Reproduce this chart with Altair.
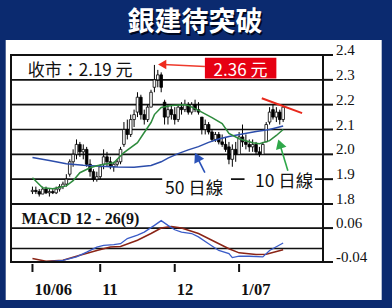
import altair as alt
import pandas as pd

NAVY = "#0b2a6f"
SERIF = "Liberation Serif"
CJK = "Noto Sans CJK TC"

# ---- daily candles: trading-day index (0 = 3 Oct 2006) ----
day = list(range(75))
open_ = [1.85, 1.855, 1.85, 1.84, 1.86, 1.845, 1.85, 1.845, 1.86, 1.87,
         1.88, 1.92, 1.97, 2.00, 2.04, 2.01, 2.02, 1.96, 1.93, 1.90,
         1.91, 1.96, 1.99, 1.97, 1.95, 1.96, 1.97, 2.04, 2.10, 2.08,
         2.14, 2.17, 2.23, 2.16, 2.14, 2.19, 2.27, 2.30, 2.32, 2.21,
         2.15, 2.18, 2.16, 2.14, 2.19, 2.18, 2.20, 2.17, 2.20, 2.18,
         2.15, 2.10, 2.12, 2.09, 2.06, 2.08, 2.05, 2.04, 2.03, 1.98,
         2.02, 2.00, 2.07, 2.05, 2.04, 2.03, 2.04, 2.01, 2.00, 2.05,
         2.13, 2.18, 2.15, 2.17, 2.14]
high = [1.87, 1.87, 1.86, 1.87, 1.87, 1.86, 1.86, 1.87, 1.88, 1.89,
        1.92, 1.98, 2.02, 2.06, 2.05, 2.04, 2.03, 1.98, 1.94, 1.93,
        1.96, 2.02, 2.01, 1.99, 1.97, 1.98, 2.03, 2.13, 2.14, 2.16,
        2.18, 2.25, 2.24, 2.18, 2.20, 2.26, 2.36, 2.34, 2.33, 2.22,
        2.20, 2.20, 2.19, 2.20, 2.21, 2.22, 2.21, 2.21, 2.22, 2.21,
        2.15, 2.14, 2.13, 2.10, 2.09, 2.09, 2.08, 2.07, 2.05, 2.04,
        2.05, 2.09, 2.12, 2.08, 2.06, 2.06, 2.05, 2.03, 2.05, 2.13,
        2.19, 2.20, 2.19, 2.18, 2.20]
low = [1.84, 1.84, 1.83, 1.84, 1.84, 1.83, 1.84, 1.84, 1.85, 1.86,
       1.87, 1.91, 1.95, 1.98, 1.99, 1.98, 1.95, 1.91, 1.89, 1.89,
       1.90, 1.94, 1.95, 1.94, 1.93, 1.95, 1.96, 2.03, 2.06, 2.07,
       2.11, 2.15, 2.14, 2.12, 2.13, 2.19, 2.25, 2.27, 2.25, 2.12,
       2.12, 2.14, 2.12, 2.13, 2.16, 2.17, 2.16, 2.16, 2.17, 2.16,
       2.08, 2.08, 2.08, 2.05, 2.05, 2.04, 2.03, 2.01, 1.96, 1.95,
       1.97, 2.00, 2.03, 2.02, 2.01, 2.01, 2.00, 1.99, 2.00, 2.05,
       2.12, 2.14, 2.13, 2.12, 2.13]
close = [1.855, 1.85, 1.84, 1.86, 1.845, 1.85, 1.845, 1.86, 1.87, 1.88,
         1.90, 1.97, 2.00, 2.04, 2.01, 2.02, 1.96, 1.93, 1.90, 1.91,
         1.95, 1.99, 1.97, 1.95, 1.96, 1.97, 2.02, 2.10, 2.08, 2.14,
         2.16, 2.23, 2.16, 2.14, 2.19, 2.25, 2.30, 2.32, 2.27, 2.15,
         2.18, 2.16, 2.14, 2.19, 2.18, 2.20, 2.17, 2.20, 2.18, 2.17,
         2.10, 2.12, 2.09, 2.06, 2.08, 2.05, 2.04, 2.02, 1.98, 2.02,
         2.00, 2.07, 2.05, 2.04, 2.03, 2.04, 2.01, 2.00, 2.04, 2.12,
         2.17, 2.15, 2.17, 2.14, 2.19]

# ---- moving averages ----
ma50_day = [0, 5, 10, 15, 20, 25, 30, 35, 38, 40, 43, 46, 49, 52, 55, 58, 62, 66, 70, 74]
ma50 = [1.987, 1.975, 1.962, 1.956, 1.952, 1.949, 1.948, 1.955, 1.970, 1.985,
        2.003, 2.018, 2.031, 2.048, 2.062, 2.072, 2.082, 2.092, 2.100, 2.114]
ma10_day = [0, 3, 6, 10, 12, 14, 17, 19, 22, 24, 27, 31, 33, 35, 36, 38, 41, 45, 46, 49,
            53, 56, 58, 61, 65, 67, 70, 72, 74]
ma10 = [1.906, 1.865, 1.861, 1.873, 1.894, 1.926, 1.946, 1.954, 1.962, 1.966,
        2.007, 2.047, 2.088, 2.128, 2.160, 2.189, 2.197, 2.200, 2.197, 2.177,
        2.148, 2.124, 2.084, 2.063, 2.047, 2.043, 2.055, 2.076, 2.100]

# ---- MACD 12-26(9) ----
macd_day = [0, 4, 9, 13, 16, 19, 21, 24, 26, 28, 31, 33, 36, 38, 40, 42, 44, 47, 49, 52,
            55, 58, 59, 61, 64, 68, 70, 74]
macd = [-0.040, -0.040, -0.035, -0.025, -0.011, 0.004, 0.009, 0.011, 0.014, 0.029,
        0.039, 0.048, 0.068, 0.082, 0.068, 0.055, 0.048, 0.044, 0.034, 0.014,
        -0.006, -0.015, -0.027, -0.023, -0.023, -0.025, -0.006, 0.016]
signal_day = [0, 4, 9, 14, 19, 23, 26, 31, 35, 38, 41, 44, 49, 54, 58, 61, 66, 69, 74]
signal = [-0.030, -0.038, -0.035, -0.020, -0.006, 0.004, 0.006, 0.024, 0.044, 0.060,
          0.065, 0.060, 0.044, 0.019, -0.001, -0.013, -0.018, -0.017, -0.004]

# ---- axes ----
price_ticks = [1.8, 1.9, 2.0, 2.1, 2.2, 2.3, 2.4]
price_labels = ["1.8", "1.9", "2.0", "2.1", "2.2", "2.3", "2.4"]
price_grid = [1.9, 2.0, 2.1, 2.2, 2.3]
macd_ticks = [0.06, -0.04]
macd_labels = ["0.06", "-0.04"]
macd_grid = [0.0, 0.06]
month_ticks = [0, 20, 42, 61]
month_labels = ["10/06", "11", "12", "1/07"]

# The drawing area covers the whole card; the panels use part of it:
# price panel 0..149 px, MACD panel 149..207 px, both 312 px wide.
W_ALL, H_ALL = 381, 253
W, H_PRICE, H = 312, 149, 207
x_scale = alt.Scale(domain=[-4.86, 84.29], range=[0, W], nice=False, zero=False)
p_scale = alt.Scale(domain=[1.8, 2.4], range=[H_PRICE, 0], nice=False, zero=False)
m_scale = alt.Scale(domain=[-0.04, 0.131], range=[H, H_PRICE], nice=False, zero=False)

prices = pd.DataFrame({"day": day, "open": open_, "high": high, "low": low, "close": close})
prices["dir"] = ["up" if c >= o else "down" for o, c in zip(open_, close)]

one = pd.DataFrame({"k": [0]})


def X(field="day"):
    return alt.X(f"{field}:Q", scale=x_scale, axis=None)


def PY(field):
    return alt.Y(f"{field}:Q", scale=p_scale, axis=None)


def MY(field):
    return alt.Y(f"{field}:Q", scale=m_scale, axis=None)


# white card behind the chart
white_card = alt.Chart(one).mark_rect(color="white").encode(
    x=alt.value(-5.3), x2=alt.value(370.7), y=alt.value(-15), y2=alt.value(245))

# ================= price panel =================
p_grid = alt.Chart(pd.DataFrame({"v": price_grid})).mark_rule(
    color="#111", strokeWidth=1.6).encode(y=PY("v"), x=alt.value(0), x2=alt.value(W))
p_ticks = alt.Chart(pd.DataFrame({"v": price_ticks})).mark_rule(
    color="#111", strokeWidth=2).encode(y=PY("v"), x=alt.value(W), x2=alt.value(W + 10))
p_tick_labels = alt.Chart(pd.DataFrame({"v": price_ticks, "t": price_labels})).mark_text(
    font=SERIF, fontSize=15, color="#111", align="left", baseline="alphabetic").encode(
    y=PY("v"), x=alt.value(W + 13), text="t:N")

masks = alt.Chart(pd.DataFrame({"x0": [38.3, 62.6], "x1": [58.6, 83.4],
                                "y0": [1.888, 1.888], "y1": [1.912, 1.912]})).mark_rect(
    color="white").encode(x=X("x0"), x2="x1:Q", y=PY("y0"), y2="y1:Q")

wicks = alt.Chart(prices).mark_rule(color="black", strokeWidth=1).encode(
    x=X(), y=PY("low"), y2="high:Q")
bodies = alt.Chart(prices).mark_bar(size=2.6, stroke="black", strokeWidth=0.8).encode(
    x=X(), y=PY("open"), y2="close:Q",
    fill=alt.Fill("dir:N", scale=alt.Scale(domain=["up", "down"], range=["white", "black"]),
                  legend=None))

ma50_line = alt.Chart(pd.DataFrame({"day": ma50_day, "v": ma50})).mark_line(
    color="#2c4dab", strokeWidth=1.5).encode(x=X(), y=PY("v"))
ma10_line = alt.Chart(pd.DataFrame({"day": ma10_day, "v": ma10})).mark_line(
    color="#2e8b3d", strokeWidth=1.5).encode(x=X(), y=PY("v"))

# resistance line over the recent highs
resist = alt.Chart(pd.DataFrame({"day": [67.7, 79.6], "v": [2.226, 2.166]})).mark_line(
    color="#e8291c", strokeWidth=2).encode(x=X(), y=PY("v"))

# 2.36 high call-out
red_arrow = alt.Chart(pd.DataFrame({"day": [50.9, 38.6], "v": [2.354, 2.362]})).mark_line(
    color="#ee3a2c", strokeWidth=1.5).encode(x=X(), y=PY("v"))
red_head = alt.Chart(pd.DataFrame({"day": [38.3], "v": [2.362]})).mark_point(
    shape="triangle-left", filled=True, size=90, color="#ee2a1c", opacity=1).encode(
    x=X(), y=PY("v"))
red_box = alt.Chart(pd.DataFrame({"x0": [50.9], "x1": [72.0], "y0": [2.305], "y1": [2.389]})
                    ).mark_rect(color="#e60012").encode(x=X("x0"), x2="x1:Q", y=PY("y0"), y2="y1:Q")
red_text = alt.Chart(pd.DataFrame({"day": [61.4], "v": [2.316], "t": ["2.36 元"]})).mark_text(
    font=CJK, fontSize=17, color="white", align="center", baseline="alphabetic").encode(
    x=X(), y=PY("v"), text="t:N")

# arrows pointing at the moving averages
blue_arrow = alt.Chart(pd.DataFrame({"day": [50.9, 48.6], "v": [1.926, 1.989]})).mark_line(
    color="#2a52b8", strokeWidth=1.6).encode(x=X(), y=PY("v"))
blue_head = alt.Chart(pd.DataFrame({"day": [48.6], "v": [1.989]})).mark_point(
    shape="triangle-up", angle=333, filled=True, size=120, color="#2a52b8", opacity=1).encode(
    x=X(), y=PY("v"))
green_arrow = alt.Chart(pd.DataFrame({"day": [75.4, 73.0], "v": [1.934, 2.042]})).mark_line(
    color="#2fa84a", strokeWidth=1.6).encode(x=X(), y=PY("v"))
green_head = alt.Chart(pd.DataFrame({"day": [73.0], "v": [2.042]})).mark_point(
    shape="triangle-up", angle=342, filled=True, size=120, color="#2fa84a", opacity=1).encode(
    x=X(), y=PY("v"))

close_note = alt.Chart(pd.DataFrame({"day": [-1.4], "v": [2.314], "t": ["收市：2.19 元"]})
                       ).mark_text(font=CJK, fontSize=17, color="#111", align="left",
                                   baseline="alphabetic").encode(x=X(), y=PY("v"), text="t:N")
ma_notes = alt.Chart(pd.DataFrame({
    "day": [39.1, 65.7],
    "v": [1.841, 1.867],
    "t": ["50 日線", "10 日線"],
})).mark_text(font=CJK, fontSize=17.5, color="#111", align="left", baseline="alphabetic").encode(
    x=X(), y=PY("v"), text="t:N")

title_shadow = alt.Chart(one).mark_text(
    text="銀建待突破", font=CJK, fontSize=27, fontWeight="bold", color="#000820",
    align="center", baseline="alphabetic").encode(x=alt.value(185.5), y=alt.value(-22.5))
title = alt.Chart(one).mark_text(
    text="銀建待突破", font=CJK, fontSize=27, fontWeight="bold", color="white",
    align="center", baseline="alphabetic").encode(x=alt.value(184), y=alt.value(-24))

# ================= MACD panel =================
m_grid = alt.Chart(pd.DataFrame({"v": macd_grid})).mark_rule(
    color="#111", strokeWidth=1.6).encode(y=MY("v"), x=alt.value(0), x2=alt.value(W))
m_ticks = alt.Chart(pd.DataFrame({"v": macd_ticks})).mark_rule(
    color="#111", strokeWidth=2).encode(y=MY("v"), x=alt.value(W), x2=alt.value(W + 10))
m_tick_labels = alt.Chart(pd.DataFrame({"v": macd_ticks, "t": macd_labels})).mark_text(
    font=SERIF, fontSize=15, color="#111", align="left", baseline="alphabetic").encode(
    y=MY("v"), x=alt.value(W + 13), text="t:N")

macd_line = alt.Chart(pd.DataFrame({"day": macd_day, "v": macd})).mark_line(
    color="#3a5cc8", strokeWidth=1.3).encode(x=X(), y=MY("v"))
signal_line = alt.Chart(pd.DataFrame({"day": signal_day, "v": signal})).mark_line(
    color="#8a2416", strokeWidth=1.5).encode(x=X(), y=MY("v"))

macd_title = alt.Chart(pd.DataFrame({"day": [-3.2], "v": [0.071], "t": ["MACD 12 - 26(9)"]})
                       ).mark_text(font=SERIF, fontSize=16, fontWeight="bold", color="#111",
                                   align="left", baseline="alphabetic").encode(
    x=X(), y=MY("v"), text="t:N")

# ---- month axis below the MACD panel ----
months = pd.DataFrame({"day": month_ticks, "t": month_labels})
month_tick_marks = alt.Chart(months).mark_rule(color="#111", strokeWidth=2).encode(
    x=X(), y=alt.value(H + 2), y2=alt.value(H + 10))
month_tick_labels = alt.Chart(months).mark_text(
    font=SERIF, fontSize=16.5, fontWeight="bold", color="#111", align="left", dx=2,
    baseline="top").encode(x=X(), y=alt.value(H + 20), text="t:N")

# panel frames
frame_top = alt.Chart(one).mark_rect(fill=None, stroke="#111", strokeWidth=2).encode(
    x=alt.value(0), x2=alt.value(W), y=alt.value(0), y2=alt.value(H_PRICE))
frame_bot = alt.Chart(one).mark_rect(fill=None, stroke="#111", strokeWidth=2).encode(
    x=alt.value(0), x2=alt.value(W), y=alt.value(H_PRICE), y2=alt.value(H))

chart = alt.layer(
    white_card,
    p_grid, p_ticks, p_tick_labels, masks, wicks, bodies, ma50_line, ma10_line,
    resist, red_arrow, red_head, red_box, red_text,
    blue_arrow, blue_head, green_arrow, green_head, close_note, ma_notes,
    title_shadow, title,
    m_grid, m_ticks, m_tick_labels, signal_line, macd_line, macd_title,
    month_tick_marks, month_tick_labels,
    frame_top, frame_bot,
).resolve_scale(y="independent").properties(
    width=W_ALL, height=H_ALL,
    autosize=alt.AutoSizeParams(type="none"),
    padding={"left": 11, "top": 55, "right": 0, "bottom": 0},
).configure(background=NAVY).configure_view(stroke=None)

chart.save("out.html", embed_options={"renderer": "svg", "actions": False})
